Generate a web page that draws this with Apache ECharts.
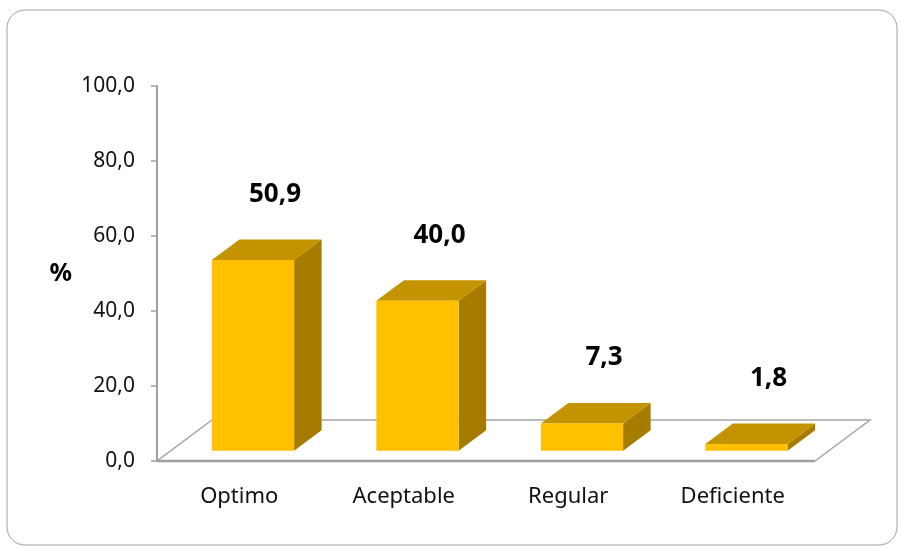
<!DOCTYPE html>
<html>
<head>
<meta charset="utf-8">
<script src="https://cdn.jsdelivr.net/npm/echarts@6/dist/echarts.min.js"></script>
<style>
  html, body { margin: 0; padding: 0; background: #fff; }
  #chart { width: 900px; height: 548px; }
</style>
</head>
<body>
<div id="chart"></div>
<script>
let categories = ['Optimo', 'Aceptable', 'Regular', 'Deficiente'];
let values = [50.9, 40.0, 7.3, 1.8];
let yTicks = { min: 0, max: 100, interval: 20 };

// depth of the 3d floor (px), bar sits from 25% to 75% of it
const DX = 55, DY = 41;
const D0 = 0.25, D1 = 0.75;
const FONT = '"Noto Sans", "Open Sans", sans-serif';

let chart = echarts.init(document.getElementById('chart'));

function fmt(v) {
    return v.toFixed(1).replace('.', ',');
}

function renderFloor(params, api) {
    let cs = params.coordSys;
    let x = cs.x, y = cs.y + cs.height, w = cs.width;
    return {
        type: 'group',
        children: [
            {
                type: 'polygon',
                shape: { points: [[x, y], [x + w, y], [x + w + DX, y - DY], [x + DX, y - DY]] },
                style: { fill: '#fff', stroke: '#a6a6a6', lineWidth: 1.5 }
            },
            {
                type: 'line',
                shape: { x1: x, y1: y, x2: x + w, y2: y },
                style: { stroke: '#a0a0a0', lineWidth: 2.5 }
            }
        ]
    };
}

function renderBar(params, api) {
    let idx = api.value(0);
    let v = api.value(1);
    let base = api.coord([idx, 0]);
    let top = api.coord([idx, v]);
    let w = api.size([1, 0])[0] * 0.5;
    let h = base[1] - top[1];
    let x0 = base[0] - w / 2 + D0 * DX;
    let y0 = base[1] - D0 * DY;
    let ddx = (D1 - D0) * DX, ddy = (D1 - D0) * DY;
    let yt = y0 - h;
    return {
        type: 'group',
        children: [
            {
                type: 'polygon',
                shape: { points: [[x0 + w, y0], [x0 + w, yt], [x0 + w + ddx, yt - ddy], [x0 + w + ddx, y0 - ddy]] },
                style: { fill: '#a67c00' }
            },
            {
                type: 'polygon',
                shape: { points: [[x0, yt], [x0 + w, yt], [x0 + w + ddx, yt - ddy], [x0 + ddx, yt - ddy]] },
                style: { fill: '#c49300' }
            },
            {
                type: 'rect',
                shape: { x: x0, y: yt, width: w, height: h },
                style: { fill: '#ffc000' }
            },
            {
                type: 'text',
                x: x0 + w / 2 + 22,
                y: yt - ddy - 45,
                style: {
                    text: fmt(v),
                    fill: '#000',
                    font: 'bold 26px ' + FONT,
                    align: 'center',
                    verticalAlign: 'middle'
                }
            }
        ]
    };
}

let barData = categories.map(function (c, i) { return [i, values[i]]; });

let option = {
    animation: false,
    backgroundColor: '#fff',
    graphic: [{
        type: 'rect',
        shape: { x: 7, y: 10, width: 890, height: 535, r: 18 },
        style: { fill: 'none', stroke: '#a0a0a0', lineWidth: 1 },
        z: -10
    }],
    grid: { left: 157, right: 85, top: 86, bottom: 87 },
    xAxis: {
        type: 'category',
        data: categories,
        axisLine: { show: false },
        axisTick: { show: false },
        axisLabel: { margin: 25, color: '#111', fontSize: 22, fontFamily: FONT }
    },
    yAxis: {
        type: 'value',
        min: yTicks.min,
        max: yTicks.max,
        interval: yTicks.interval,
        name: '%',
        nameLocation: 'middle',
        nameRotate: 0,
        nameGap: 85,
        nameTextStyle: { color: '#000', fontSize: 25, fontWeight: 'bold', fontFamily: FONT },
        axisLine: { show: true, lineStyle: { color: '#a0a0a0', width: 2 } },
        axisTick: { show: true, length: 6, lineStyle: { color: '#a0a0a0', width: 1.5 } },
        axisLabel: {
            margin: 22, color: '#111', fontSize: 21, fontFamily: FONT,
            formatter: function (v) { return fmt(v); }
        },
        splitLine: { show: false }
    },
    series: [
        {
            type: 'custom',
            renderItem: renderFloor,
            data: [[0, 0]],
            encode: { x: 0, y: 1 },
            silent: true,
            z: 1
        },
        {
            type: 'custom',
            renderItem: renderBar,
            data: barData,
            encode: { x: 0, y: 1 },
            z: 2
        }
    ]
};

chart.setOption(option);
</script>
</body>
</html>
